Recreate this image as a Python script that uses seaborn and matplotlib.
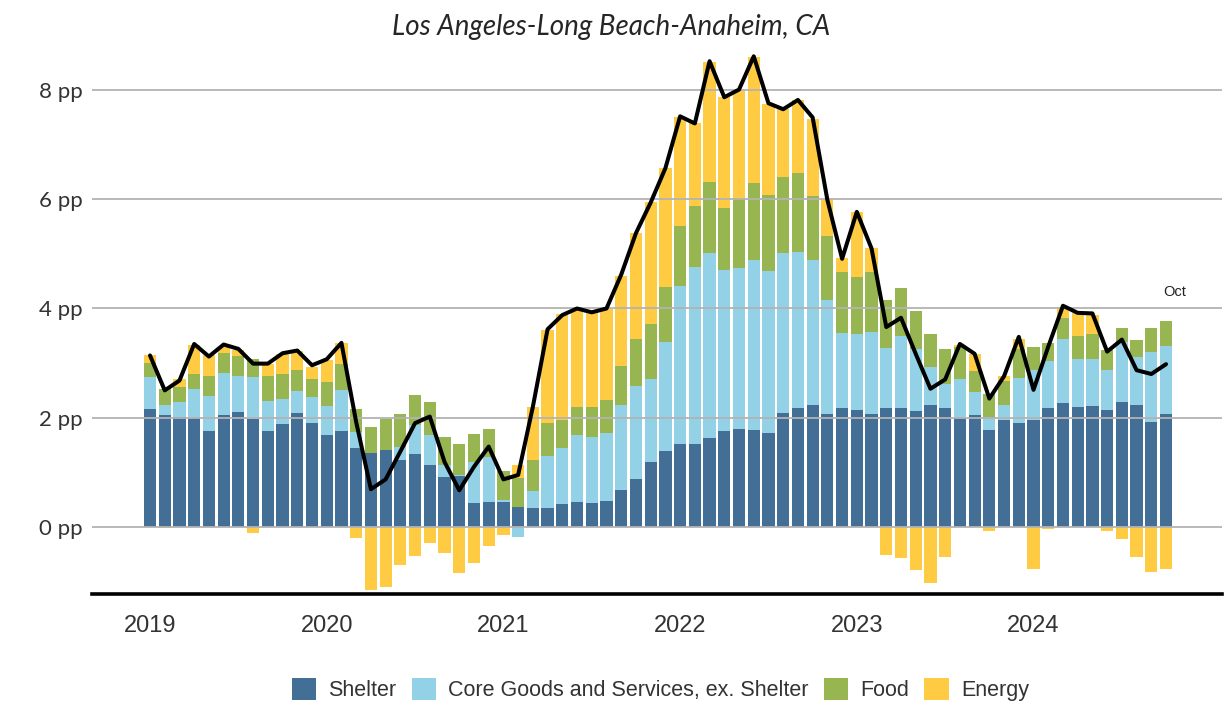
import numpy as np
import pandas as pd
import matplotlib
matplotlib.use("Agg")
import matplotlib.pyplot as plt
from matplotlib.patches import Patch
import seaborn as sns

sns.set_style("white")
plt.rcParams['font.family'] = ['Lato', 'DejaVu Sans']

# monthly contributions to CPI inflation, Jan 2019 - Oct 2024 (pp)
months = pd.date_range("2019-01-01", "2024-10-01", freq="MS")

shelter = [2.16, 2.04, 2.01, 2.00, 1.75, 2.04, 2.10, 1.98, 1.75, 1.89, 2.09, 1.91,
           1.68, 1.76, 1.45, 1.36, 1.41, 1.22, 1.34, 1.14, 0.92, 0.93, 0.43, 0.46,
           0.46, 0.37, 0.35, 0.34, 0.41, 0.46, 0.43, 0.47, 0.67, 0.87, 1.19, 1.39,
           1.51, 1.51, 1.63, 1.76, 1.79, 1.77, 1.72, 2.08, 2.17, 2.23, 2.07, 2.17,
           2.14, 2.06, 2.18, 2.17, 2.12, 2.23, 2.18, 2.00, 2.05, 1.77, 1.96, 1.90,
           1.96, 2.17, 2.26, 2.20, 2.22, 2.14, 2.28, 2.23, 1.92, 2.06]
core = [0.58, 0.20, 0.28, 0.52, 0.65, 0.78, 0.66, 0.76, 0.55, 0.45, 0.40, 0.46,
        0.53, 0.74, 0.29, -0.03, 0.00, 0.24, 0.52, 0.54, 0.22, 0.02, 0.76, 0.82,
        0.04, -0.18, 0.31, 0.96, 1.04, 1.22, 1.22, 1.25, 1.56, 1.71, 1.52, 1.99,
        2.91, 3.25, 3.38, 2.95, 2.95, 3.12, 2.96, 2.94, 2.87, 2.65, 2.09, 1.38,
        1.39, 1.51, 1.10, 1.32, 1.13, 0.70, 0.43, 0.70, 0.42, 0.24, 0.27, 0.83,
        0.91, 0.87, 1.19, 0.87, 0.86, 0.74, 1.11, 0.89, 1.29, 1.26]
food = [0.26, 0.29, 0.27, 0.28, 0.37, 0.37, 0.37, 0.34, 0.47, 0.46, 0.38, 0.33,
        0.45, 0.49, 0.41, 0.46, 0.57, 0.60, 0.56, 0.61, 0.51, 0.56, 0.52, 0.52,
        0.52, 0.52, 0.56, 0.61, 0.50, 0.52, 0.55, 0.60, 0.71, 0.86, 1.00, 1.02,
        1.10, 1.11, 1.30, 1.13, 1.27, 1.40, 1.39, 1.39, 1.45, 1.18, 1.17, 1.11,
        1.05, 1.10, 0.88, 0.89, 0.70, 0.61, 0.64, 0.60, 0.39, 0.43, 0.44, 0.53,
        0.43, 0.33, 0.37, 0.42, 0.46, 0.36, 0.26, 0.31, 0.44, 0.45]
energy = [0.15, -0.03, 0.14, 0.54, 0.37, 0.10, 0.11, -0.12, 0.22, 0.37, 0.36, 0.23,
          0.40, 0.37, -0.20, -1.13, -1.11, -0.69, -0.53, -0.29, -0.47, -0.84, -0.67, -0.35,
          -0.15, 0.24, 0.97, 1.70, 1.95, 1.80, 1.73, 1.67, 1.66, 1.94, 2.24, 2.18,
          1.99, 1.53, 2.20, 2.03, 2.00, 2.32, 1.67, 1.24, 1.33, 1.42, 0.67, 0.26,
          1.19, 0.43, -0.52, -0.57, -0.79, -1.02, -0.55, 0.03, 0.30, -0.08, 0.09, 0.19,
          -0.78, -0.04, 0.21, 0.42, 0.34, -0.07, -0.23, -0.55, -0.83, -0.78]
headline = [3.14, 2.50, 2.68, 3.35, 3.12, 3.34, 3.26, 2.99, 2.99, 3.18, 3.23, 2.96,
            3.07, 3.37, 1.92, 0.69, 0.87, 1.38, 1.90, 2.02, 1.19, 0.67, 1.10, 1.47,
            0.87, 0.95, 2.20, 3.62, 3.88, 4.00, 3.93, 4.00, 4.62, 5.38, 5.94, 6.57,
            7.52, 7.39, 8.53, 7.87, 8.01, 8.62, 7.76, 7.65, 7.82, 7.50, 5.99, 4.91,
            5.77, 5.10, 3.66, 3.83, 3.17, 2.53, 2.70, 3.35, 3.17, 2.35, 2.76, 3.48,
            2.51, 3.30, 4.05, 3.92, 3.91, 3.21, 3.43, 2.87, 2.80, 2.98]

names = ["Shelter", "Core Goods and Services, ex. Shelter", "Food", "Energy"]
colors = ["#436f97", "#93d1e7", "#97b652", "#fecb42"]
year_labels = ["2019", "2020", "2021", "2022", "2023", "2024"]

df = pd.DataFrame({"month": months, "Shelter": shelter, names[1]: core,
                   "Food": food, "Energy": energy, "total": headline})
x = np.arange(len(df))

fig = plt.figure(figsize=(12.25, 7.06), dpi=100)
ax = fig.add_axes([92/1225, 112/706, 1130/1225, 553/706])

pos = np.zeros(len(df))
neg = np.zeros(len(df))
for name, col in zip(names, colors):
    v = df[name].to_numpy()
    bottom = np.where(v >= 0, pos, neg)
    ax.bar(x, v, bottom=bottom, width=0.83, color=col, linewidth=0, zorder=1)
    pos += np.clip(v, 0, None)
    neg += np.clip(v, None, 0)

sns.lineplot(x=x, y=df["total"], color="black", linewidth=2.9, ax=ax, zorder=4)

ax.set_xlim(-3.94, 72.8)
ax.set_ylim(-1.23, 8.9)
ax.set_yticks([0, 2, 4, 6, 8])
ax.set_yticklabels([f"{v} pp" for v in [0, 2, 4, 6, 8]])
ax.set_xticks(np.arange(0, 72, 12))
ax.set_xticklabels(year_labels)
ax.grid(axis="y", color="#b3b3b3", linewidth=1.3, zorder=2)
ax.set_axisbelow(False)
for s in ["top", "right", "left"]:
    ax.spines[s].set_visible(False)
ax.spines["bottom"].set_linewidth(2.6)
ax.spines["bottom"].set_color("black")
ax.tick_params(axis="y", length=0, pad=7, labelsize=16, labelcolor="#333333")
ax.tick_params(axis="x", length=6, width=1, color="black", pad=9,
               labelsize=17, labelcolor="#333333", direction="out")
for lab in ax.get_xticklabels():
    lab.set_family(["Liberation Sans", "DejaVu Sans"])
ax.set_xlabel("")
ax.set_ylabel("")

ax.text(69.6, 4.3, "Oct", ha="center", va="center", fontsize=10.5,
        color="#222222", family=["Liberation Sans", "DejaVu Sans"])

fig.text(0.499, 0.962, "Los Angeles-Long Beach-Anaheim, CA", ha="center", va="center",
         fontsize=20, style="italic", family=["Lato", "DejaVu Sans"])

handles = [Patch(facecolor=c, edgecolor="none") for c in colors]
fig.legend(handles, names, loc="center", bbox_to_anchor=(0.539, 0.023), ncol=4,
           frameon=False, handlelength=1.15, handleheight=1.15, handletextpad=0.55,
           columnspacing=0.7, prop={"family": ["Liberation Sans", "DejaVu Sans"], "size": 15.5},
           labelcolor="#333333")

plt.savefig("out.png", dpi=100)
